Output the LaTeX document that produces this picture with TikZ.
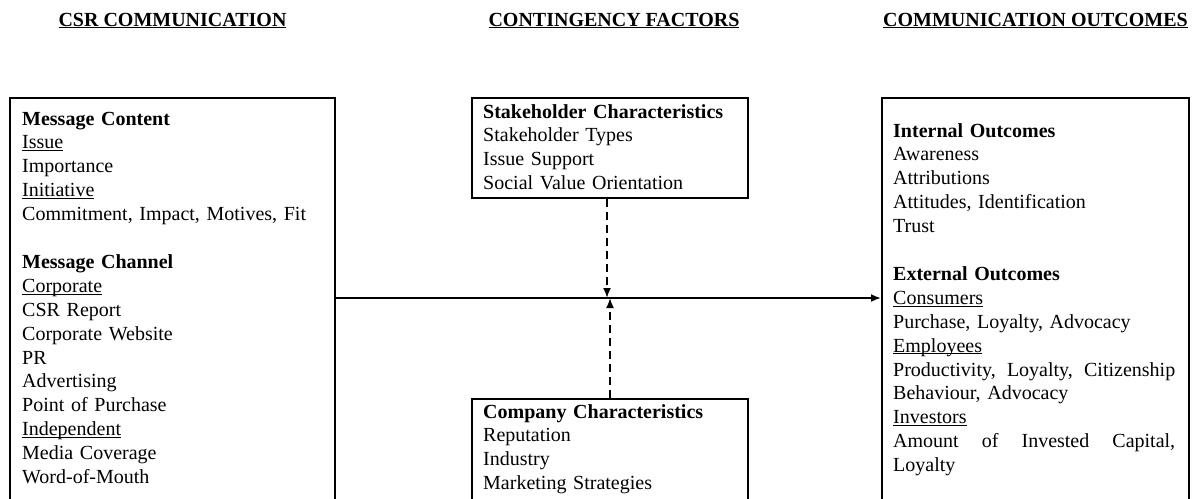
\documentclass[tikz,border=0pt]{standalone}
\usepackage{fontspec}
\setmainfont{Liberation Serif}
\usetikzlibrary{arrows.meta,positioning}

\newcommand{\uln}[1]{\underline{\smash{#1}}}

\tikzset{
	frame/.style={draw, line width=2pt, anchor=north west, inner sep=0pt},
	boxtext/.style={anchor=base west, align=left, inner sep=0pt, font=\fontsize{20}{23.9}\selectfont},
	head/.style={anchor=base, inner sep=0pt, font=\fontsize{20}{24}\selectfont\bfseries},
	flow/.style={line width=1.8pt, -{Latex[length=10pt,width=8pt]}},
	link/.style={line width=1.8pt, dash pattern=on 8pt off 5pt, -{Latex[length=10pt,width=8pt]}}
}

\begin{document}
\begin{tikzpicture}[x=1pt, y=-1pt]
		\useasboundingbox (0, 0) rectangle (1193, 498);
		\clip (0, 0) rectangle (1193, 498);

		% frames (bottoms run off the page)
		\node[frame, minimum width=325pt, minimum height=420pt] (csr) at (9, 97) {};
		\node[frame, minimum width=276pt, minimum height=100pt] (stake) at (471, 97) {};
		\node[frame, minimum width=276pt, minimum height=120pt] (comp) at (471, 398) {};
		\node[frame, minimum width=307pt, minimum height=420pt] (outc) at (881, 97) {};

		% column titles
		\coordinate (hy) at (0, 26);
		\node[head] (hcsr) at (csr.north |- hy) {\underline{CSR COMMUNICATION}};
		\node[head, xshift=4pt] (hcont) at (stake.north |- hy) {\underline{CONTINGENCY FACTORS}};
		\node[head] (houtc) at (outc.north |- hy) {\underline{COMMUNICATION OUTCOMES}};

		% box contents
		\node[boxtext, text width=300pt] (csrtxt) at (22, 125) {%
			\textbf{Message Content}\\
			\uln{Issue}\\
			Importance\\
			\uln{Initiative}\\
			Commitment, Impact, Motives, Fit\\[23.9pt]
			\textbf{Message Channel}\\
			\uln{Corporate}\\
			CSR Report\\
			Corporate Website\\
			PR\\
			Advertising\\
			Point of Purchase\\
			\uln{Independent}\\
			Media Coverage\\
			Word-of-Mouth};

		\node[boxtext, text width=260pt] (staketxt) at (483, 118) {%
			\textbf{Stakeholder Characteristics}\\
			Stakeholder Types\\
			Issue Support\\
			Social Value Orientation};

		\node[boxtext, text width=260pt] (comptxt) at (483, 418) {%
			\textbf{Company Characteristics}\\
			Reputation\\
			Industry\\
			Marketing Strategies};

		\node[boxtext, text width=282pt] (outctxt) at (893, 137) {%
			\textbf{Internal Outcomes}\\
			Awareness\\
			Attributions\\
			Attitudes, Identification\\
			Trust\\[23.9pt]
			\textbf{External Outcomes}\\
			\uln{Consumers}\\
			Purchase, Loyalty, Advocacy\\
			\uln{Employees}\\
			Productivity,\hfill Loyalty,\hfill Citizenship\\
			Behaviour, Advocacy\\
			\uln{Investors}\\
			Amount\hfill of\hfill Invested\hfill Capital,\\
			Loyalty};

		% connectors
		\coordinate (meet) at (607, 298);
		\draw[flow] (csr.east |- meet) -- (outc.west |- meet);
		\draw[link] ([xshift=-3pt]stake.south) -- ([xshift=-3pt]stake.south |- meet);
		\draw[link] (comp.north) -- (comp.north |- meet);
	\end{tikzpicture}
\end{document}
